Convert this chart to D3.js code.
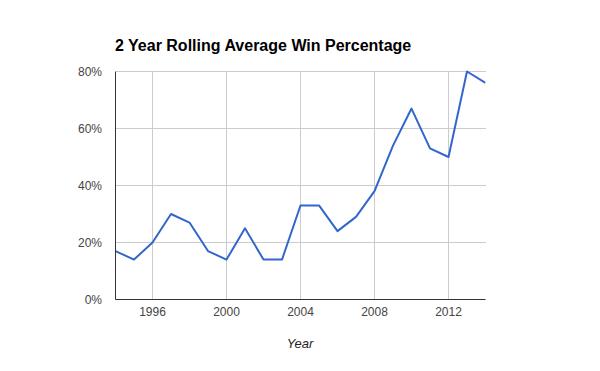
<!DOCTYPE html>
<html>
<head>
<script src="https://cdnjs.cloudflare.com/ajax/libs/d3/7.8.5/d3.min.js"></script>
<style>
body { margin: 0; background: #fff; }
text { font-family: "Liberation Sans", Arial, sans-serif; }
.grid line { stroke: #cccccc; stroke-width: 1; shape-rendering: crispEdges; }
.tick-label { fill: #444; font-size: 12px; }
</style>
</head>
<body>
<div id="chart"></div>
<script>
// years and 2-year rolling win %
var years = [1994, 1995, 1996, 1997, 1998, 1999, 2000, 2001, 2002, 2003, 2004,
             2005, 2006, 2007, 2008, 2009, 2010, 2011, 2012, 2013, 2014];
var winPct = [17, 14, 20, 30, 27, 17, 14, 25, 14, 14, 33,
              33, 24, 29, 38, 54, 67, 53, 50, 80, 76];
var xTicks = [1996, 2000, 2004, 2008, 2012];
var yTicks = [0, 20, 40, 60, 80];

var svg = d3.select("#chart").append("svg")
    .attr("width", 600)
    .attr("height", 371);

var plotLeft = 115.5, plotRight = 485.5, plotTop = 71.5, plotBottom = 299.5;

var x = d3.scaleLinear().domain([1994, 2014]).range([plotLeft, plotRight]);
var y = d3.scaleLinear().domain([0, 80]).range([plotBottom, plotTop]);

// gridlines
var grid = svg.append("g").attr("class", "grid");
grid.selectAll(".hg").data(yTicks.filter(function(d){ return d > 0; })).enter().append("line")
    .attr("x1", plotLeft).attr("x2", plotRight)
    .attr("y1", function(d){ return y(d); })
    .attr("y2", function(d){ return y(d); });
grid.selectAll(".vg").data(xTicks).enter().append("line")
    .attr("y1", plotTop).attr("y2", plotBottom)
    .attr("x1", function(d){ return x(d); })
    .attr("x2", function(d){ return x(d); });

// y labels
svg.selectAll(".ylab").data(yTicks).enter().append("text")
    .attr("class", "tick-label")
    .attr("x", 102)
    .attr("y", function(d){ return y(d) + 4; })
    .attr("text-anchor", "end")
    .text(function(d){ return d + "%"; });

// x labels
svg.selectAll(".xlab").data(xTicks).enter().append("text")
    .attr("class", "tick-label")
    .attr("x", function(d){ return x(d); })
    .attr("y", 316)
    .attr("text-anchor", "middle")
    .text(function(d){ return d; });

// line
var line = d3.line()
    .x(function(d, i){ return x(years[i]); })
    .y(function(d){ return y(d); });

svg.append("clipPath").attr("id", "clip").append("rect")
    .attr("x", plotLeft).attr("y", plotTop - 2)
    .attr("width", plotRight - plotLeft).attr("height", plotBottom - plotTop + 4);

svg.append("path")
    .datum(winPct)
    .attr("clip-path", "url(#clip)")
    .attr("d", line)
    .attr("fill", "none")
    .attr("stroke", "#3366cc")
    .attr("stroke-width", 2)
    .attr("stroke-linejoin", "round");

// axes lines
svg.append("line").attr("x1", plotLeft).attr("x2", plotLeft).attr("y1", plotTop).attr("y2", plotBottom)
    .attr("stroke", "#333").attr("stroke-width", 1);
svg.append("line").attr("x1", plotLeft).attr("x2", plotRight).attr("y1", plotBottom).attr("y2", plotBottom)
    .attr("stroke", "#333").attr("stroke-width", 1);

// title
svg.append("text")
    .attr("x", 115)
    .attr("y", 51)
    .attr("font-size", "16px")
    .attr("font-weight", "bold")
    .attr("fill", "#000")
    .text("2 Year Rolling Average Win Percentage");

// x axis title
svg.append("text")
    .attr("x", 300)
    .attr("y", 348)
    .attr("text-anchor", "middle")
    .attr("font-size", "13px")
    .attr("font-style", "italic")
    .attr("fill", "#222")
    .text("Year");
</script>
</body>
</html>
